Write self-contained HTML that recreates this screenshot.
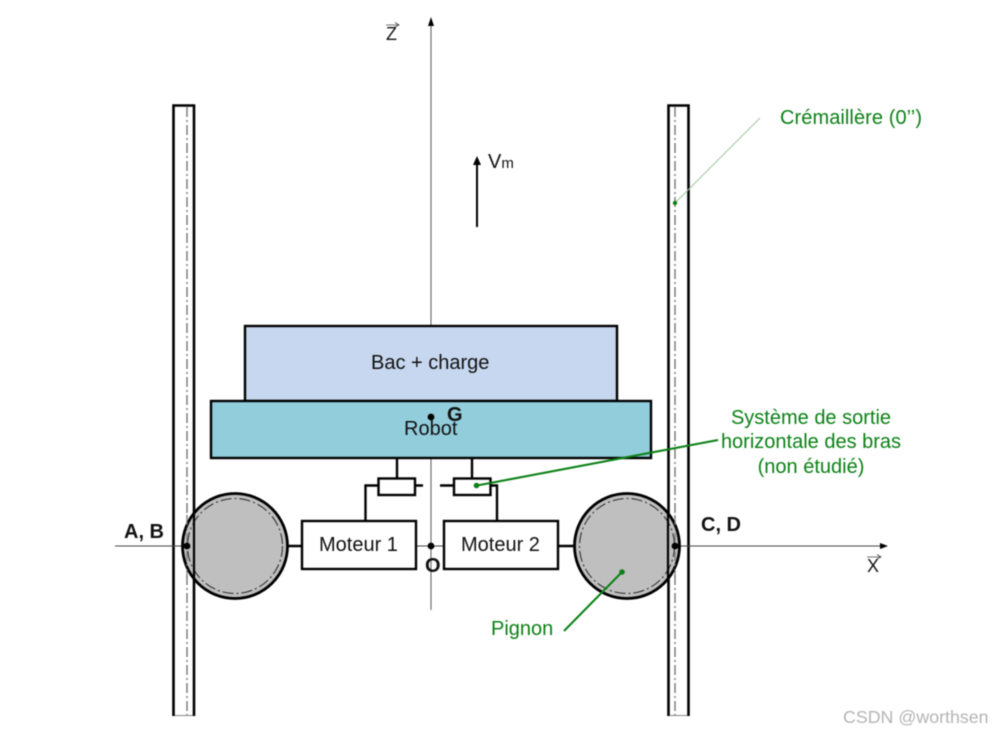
<!DOCTYPE html>
<html lang="fr">
<head>
<meta charset="utf-8">
<title>Schéma du robot</title>
<style>
html,body{margin:0;padding:0;background:#fff;width:992px;height:735px;overflow:hidden}
svg{display:block;filter:blur(.4px)}
text{font-family:"Liberation Sans",sans-serif;font-size:20px;fill:#111}
.g{fill:#0c8116}
.b{font-weight:bold}
</style>
</head>
<body>
<svg width="992" height="735" viewBox="0 0 992 735" xmlns="http://www.w3.org/2000/svg">
<rect width="992" height="735" fill="#fff"/>

<!-- rails -->
<g stroke="#888" stroke-width="1">
  <line x1="173.500" y1="715.500" x2="194" y2="715.500"/>
  <line x1="668.500" y1="715.500" x2="688.500" y2="715.500"/>
</g>
<g fill="none" stroke="#000" stroke-width="2.600">
  <path d="M173.5 716V105.500H194V716"/>
  <path d="M668.500 716V105.500H688.500V716"/>
</g>
<g stroke="#777" stroke-width="1.400" stroke-dasharray="10 3 2 3">
  <line x1="187" y1="107" x2="187" y2="715"/>
  <line x1="675" y1="107" x2="675" y2="715"/>
</g>

<!-- axes -->
<line x1="431" y1="26" x2="431" y2="326" stroke="#666" stroke-width="1.100"/>
<line x1="431" y1="458" x2="431" y2="610" stroke="#666" stroke-width="1.100"/>
<polygon points="431,17 428,26 434,26" fill="#000"/>
<line x1="115" y1="546" x2="882" y2="546" stroke="#444" stroke-width="1.100"/>
<polygon points="888,546 880,543 880,549" fill="#000"/>

<!-- wheels -->
<circle cx="235" cy="546" r="52.500" fill="#bfbfbf" stroke="#000" stroke-width="2.800"/>
<circle cx="235" cy="546" r="47.500" fill="none" stroke="#333" stroke-width="1.100" stroke-dasharray="11 3 2 3"/>
<circle cx="627" cy="546" r="52.500" fill="#bfbfbf" stroke="#000" stroke-width="2.800"/>
<circle cx="627" cy="546" r="47.500" fill="none" stroke="#333" stroke-width="1.100" stroke-dasharray="11 3 2 3"/>
<path d="M194 512V580M668 512V580" stroke="#000" stroke-width="2.200"/>
<g stroke="#777" stroke-width="1.200" stroke-dasharray="10 3 2 3">
  <line x1="187" y1="515" x2="187" y2="578"/>
  <line x1="675" y1="515" x2="675" y2="578"/>
</g>

<!-- body -->
<rect x="245" y="326" width="372" height="75" fill="#c6d7ef" stroke="#000" stroke-width="2.400"/>
<rect x="211" y="401" width="440" height="57" fill="#92cddc" stroke="#000" stroke-width="2.400"/>

<!-- motors -->
<rect x="302" y="521" width="114" height="48" fill="#fff" stroke="#000" stroke-width="2.400"/>
<rect x="444" y="521" width="114" height="48" fill="#fff" stroke="#000" stroke-width="2.400"/>
<g stroke="#000" stroke-width="2.400" fill="none">
  <path d="M288 546H302M558 546H574"/>
  <path d="M397 458V478M378 485.500H365.500V521M415 485.500H423"/>
  <path d="M472 458V478M491 485.500H497V521M440 485.500H454"/>
  <rect x="378.500" y="478.500" width="36.500" height="16.500" fill="#fff"/>
  <rect x="454" y="478.500" width="36.500" height="16.500" fill="#fff"/>
</g>

<!-- Vm arrow -->
<line x1="477" y1="227" x2="477" y2="165" stroke="#000" stroke-width="2"/>
<polygon points="477,156 473,165 481,165" fill="#000"/>

<!-- points -->
<circle cx="187" cy="546" r="3.400" fill="#000"/>
<circle cx="675" cy="546" r="3.400" fill="#000"/>
<circle cx="431" cy="546" r="3.400" fill="#000"/>
<circle cx="431" cy="417" r="3.400" fill="#000"/>

<!-- green leaders -->
<line x1="675" y1="203" x2="760" y2="118" stroke="#9cc79c" stroke-width="1"/>
<circle cx="675" cy="203" r="2.200" fill="#0c8116"/>
<line x1="477" y1="485.500" x2="718" y2="440" stroke="#0c8116" stroke-width="2"/>
<circle cx="476.500" cy="485.500" r="2.800" fill="#0c8116"/>
<line x1="564" y1="631" x2="622" y2="572" stroke="#0c8116" stroke-width="2"/>
<circle cx="622" cy="572" r="2.800" fill="#0c8116"/>

<!-- labels -->
<text x="371" y="369">Bac + charge</text>
<text x="404" y="435">Robot</text>
<text x="447" y="421" class="b">G</text>
<text x="319" y="551">Moteur 1</text>
<text x="461" y="551">Moteur 2</text>
<text x="425" y="572" class="b">O</text>
<text x="124" y="538" class="b">A, B</text>
<text x="701" y="531" class="b">C, D</text>
<text x="488" y="168">V<tspan font-size="15">m</tspan></text>

<text x="386" y="40" style="font-size:18px">Z</text>
<path d="M386 25H399M395 22.500L399 25L395 27" fill="none" stroke="#444" stroke-width=".8"/>
<text x="867" y="572" style="font-size:18px">X</text>
<path d="M867 557H881M877 554.500L881 557L877 559" fill="none" stroke="#444" stroke-width=".8"/>

<text x="780" y="124" class="g" textLength="142">Crémaillère (0’’)</text>
<text x="811" y="424" class="g" text-anchor="middle">Système de sortie</text>
<text x="811" y="448" class="g" text-anchor="middle">horizontale des bras</text>
<text x="811" y="473" class="g" text-anchor="middle">(non étudié)</text>
<text x="491" y="635" class="g">Pignon</text>

<text x="843" y="723" style="font-size:17.800px;fill:#b4b4b4">CSDN @worthsen</text>
</svg>
</body>
</html>
